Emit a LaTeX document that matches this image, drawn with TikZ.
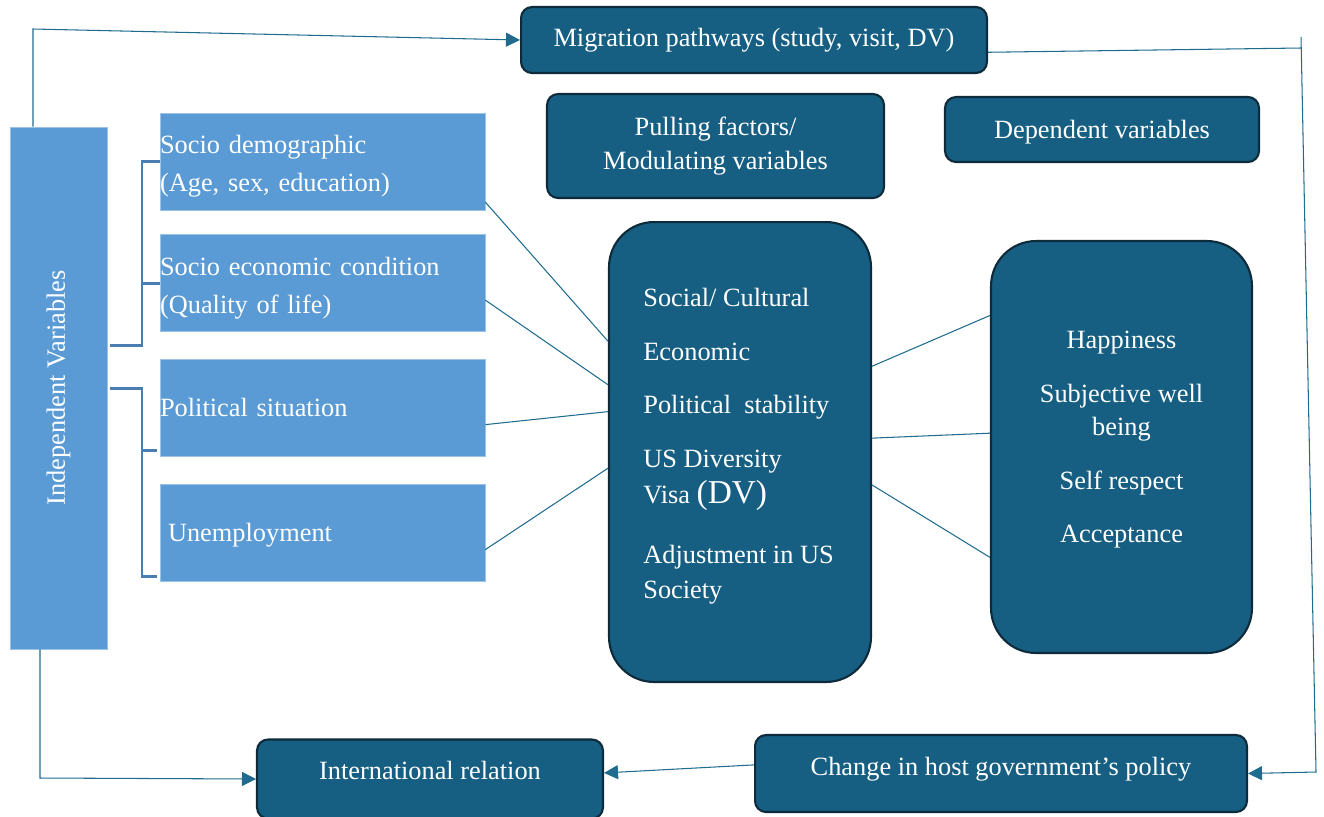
\documentclass[tikz,border=0pt]{standalone}
\usepackage{fontspec}
\setmainfont{Liberation Serif}
\usetikzlibrary{arrows.meta,calc}
\definecolor{boxteal}{HTML}{175F82}
\definecolor{boxedge}{HTML}{0E2B3B}
\definecolor{ivblue}{HTML}{5B9BD5}
\definecolor{ivedge}{HTML}{9CC2E5}
\definecolor{linkteal}{HTML}{1F6C8E}
\definecolor{brkblue}{HTML}{4A7DB0}
\tikzset{
  dark/.style={rectangle,draw=boxedge,line width=1.2pt,fill=boxteal,text=white,rounded corners=2.2mm,align=center,inner sep=0pt},
  light/.style={rectangle,draw=ivedge,line width=0.4pt,fill=ivblue,text=white,inner sep=0pt,align=left,font=\fontsize{15}{21.5}\selectfont},
  txt/.style={text=white,inner sep=0pt},
  conn/.style={draw=linkteal,line width=0.6pt},
  arr/.style={conn,-{Triangle[length=2.8mm,width=2.8mm]}},
  brk/.style={draw=brkblue,line width=1.7pt}
}

\begin{document}
\begin{tikzpicture}[x=0.02cm,y=-0.02cm,font=\fontsize{15}{20}\selectfont]
\useasboundingbox (0,0) rectangle (1324,816);
% top row
\node[dark,minimum width=9.32cm,minimum height=1.32cm] (mig) at (754,40) {Migration pathways (study, visit, DV)};
\node[dark,minimum width=6.74cm,minimum height=2.08cm,font=\fontsize{15}{19}\selectfont] (pull) at (715.5,146) {Pulling factors/\\Modulating variables};
\node[dark,minimum width=6.28cm,minimum height=1.3cm,text depth=0pt] (dep) at (1102,129.5) {Dependent variables};
% independent variables
\node[light,minimum width=1.94cm,minimum height=10.44cm] (indep) at (58.5,388) {};
\node[txt,rotate=90] (indeptxt) at (indep) {Independent Variables};
\node[light,text width=6.5cm,minimum height=1.94cm] (soc1) at (322.5,161.5) {\rule{0pt}{16pt}Socio demographic\\(Age, sex, education)};
\node[light,text width=6.5cm,minimum height=1.94cm] (soc2) at (322.5,283) {\rule{0pt}{16pt}Socio economic condition\\(Quality of life)};
\node[light,text width=6.5cm,minimum height=1.94cm] (pol) at (322.5,407.5) {Political situation};
\node[light,text width=6.18cm,inner xsep=0.16cm,minimum height=1.94cm,text depth=0pt] (unem) at (322.5,532.5) {Unemployment};
% modulating block
\node[dark,rounded corners=0.9cm,minimum width=5.24cm,minimum height=9.2cm] (mod) at (740,452) {};
\node[txt,anchor=north west,align=left] (modtxt) at (643,288) {Social/ Cultural\\[10.5pt]
  Economic\\[10.5pt]
  Political\ \ stability\\[10.5pt]
  US Diversity\\[0.5pt]
  Visa {\fontsize{19}{20}\selectfont(DV)}\\[14pt]
  Adjustment in US\\
  Society};
% outcomes
\node[dark,rounded corners=0.9cm,minimum width=5.22cm,minimum height=8.24cm] (outc) at (1121.5,447) {};
\node[txt,anchor=north,align=center,font=\fontsize{15}{19}\selectfont] (outtxt) at (1121.5,331) {Happiness\\[11.5pt]
  Subjective well\\ being\\[11.5pt]
  Self respect\\[11.5pt]
  Acceptance};
% bottom row
\node[dark,minimum width=9.84cm,minimum height=1.54cm,text depth=0.28cm] (chg) at (1001,773.5) {Change in host government’s policy};
\node[dark,minimum width=6.92cm,minimum height=1.58cm,text depth=0.36cm] (intl) at (430,779) {International relation};

% brackets
\draw[brk] (110,345) -- (142,345) -- (142,161.5) -- (soc1.west);
\draw[brk] (142,283) -- (soc2.west);
\draw[brk] (110,388) -- (142,388) -- (142,576) -- (157,576);
\draw[brk] (142,450) -- (157,450);

% links
\draw[conn] (soc1.-14) -- (mod.140);
\draw[conn] (soc2.-6.3) -- (mod.153.6);
\draw[conn] (pol.-6.8) -- (mod.163.4);
\draw[conn] (unem.-6.8) -- (mod.-173.5);
\draw[conn] (mod.33) -- (outc.135);
\draw[conn] (mod.6.5) -- (outc.174);
\draw[conn] (mod.-14.1) -- (outc.-140);

% feedback loop
\coordinate (tl) at (33,29);
\coordinate (bl) at (40,778);
\coordinate (tr) at (1301,48);
\coordinate (br) at (1316,772);
\draw[arr] (indep.north -| tl) -- (tl) -- (mig.west);
\draw[arr] (indep.south -| bl) -- (bl) -- (intl.west);
\draw[conn] (mig.-3.2) -- (tr);
\draw[arr] ($(tr)+(0,-11)$) -- (br) -- (chg.east);
\draw[arr] (chg.178) -- (intl.2.3);
\end{tikzpicture}
\end{document}
